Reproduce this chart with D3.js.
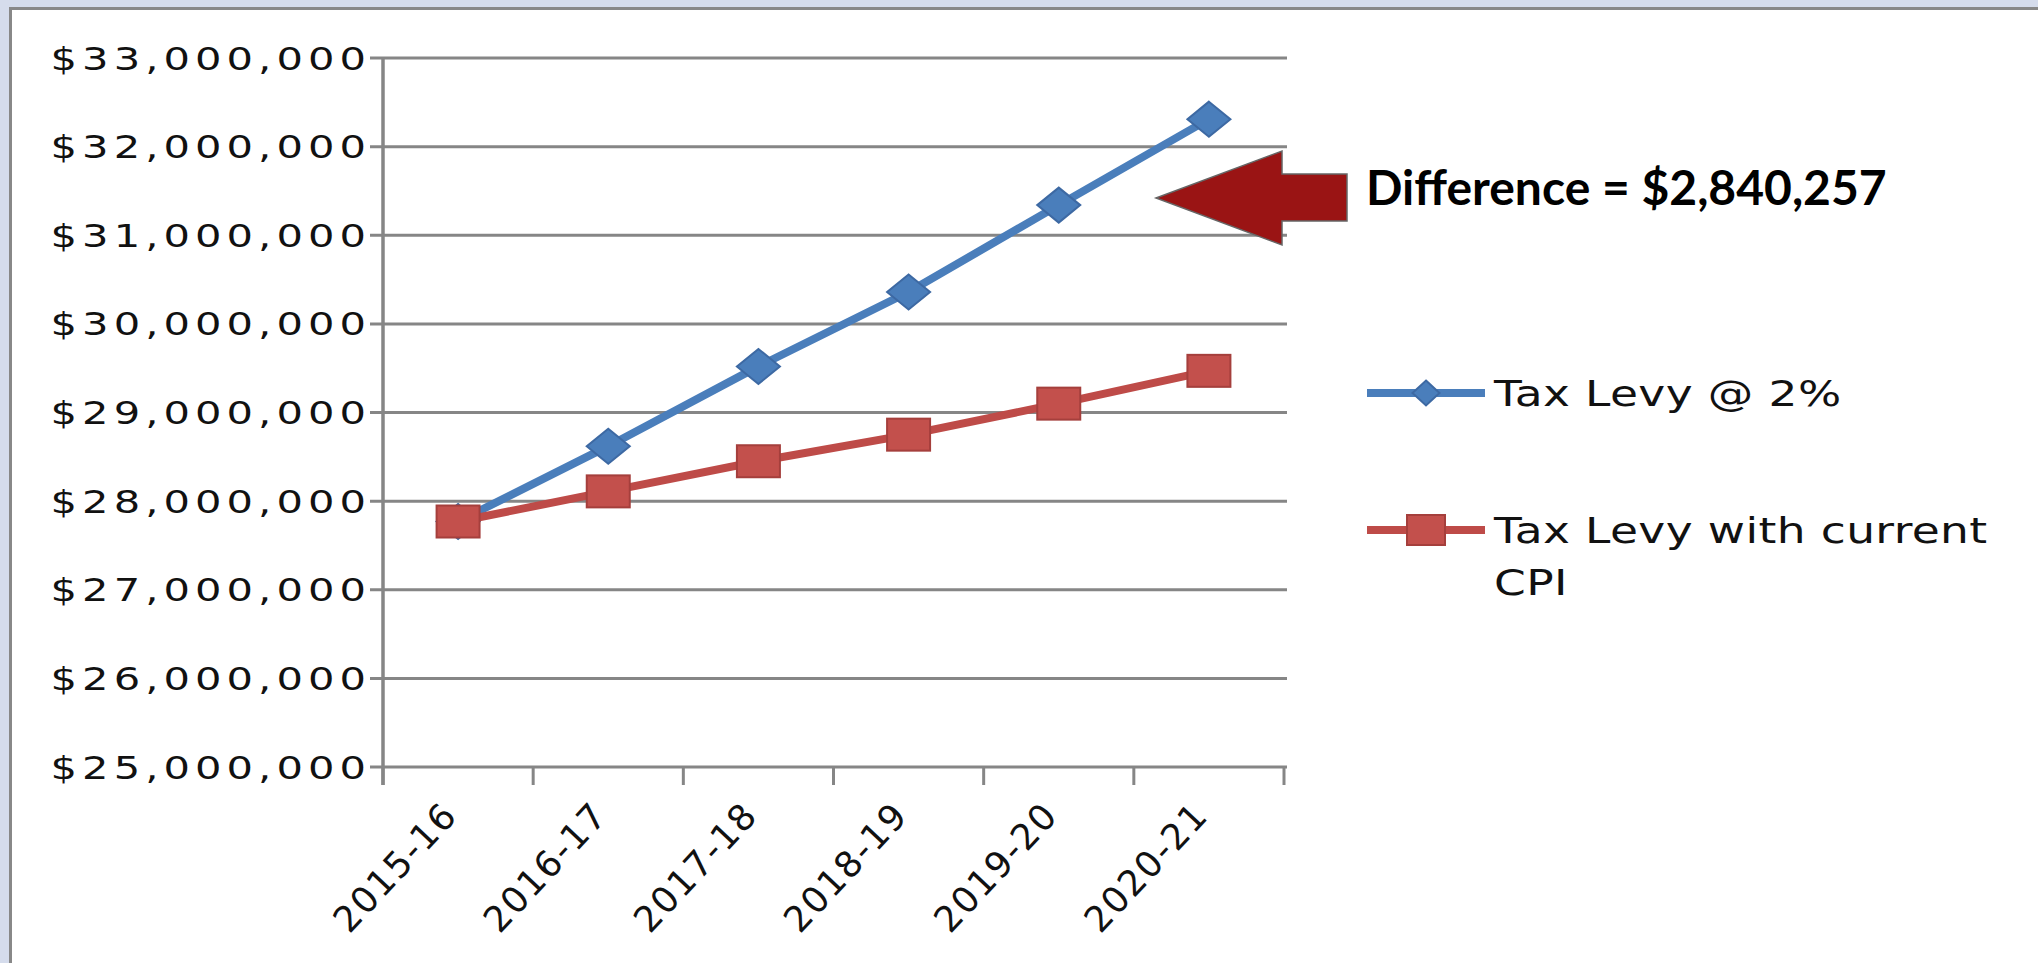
<!DOCTYPE html>
<html>
<head>
<meta charset="utf-8">
<script src="https://cdn.jsdelivr.net/npm/d3@7"></script>
<style>
    body { margin: 0; background: #d5dcec; }
    svg { display: block; }
</style>
</head>
<body>
<svg id="vis_svg"></svg>
<script>
// Data
let categories = ['2015-16', '2016-17', '2017-18', '2018-19', '2019-20', '2020-21'];
let levyTwoPercent = [27770000, 28620000, 29520000, 30360000, 31340000, 32310000];
let levyCurrentCpi = [27770000, 28110000, 28450000, 28750000, 29100000, 29470000];
let yTicks = [25000000, 26000000, 27000000, 28000000, 29000000, 30000000, 31000000, 32000000, 33000000];
let legendLabels = [['Tax Levy @ 2%'], ['Tax Levy with current', 'CPI']];
let differenceLabel = 'Difference = $2,840,257';

// Global Variables
let scales = {};
let config = {
    'svg': {},
    'plot': {},
    'legend': {}
};

/**
 * Set up sizes and scales
 */
function visSetup() {
    config.svg.width = 2038;
    config.svg.height = 963;

    config.plot.left = 383;
    config.plot.right = 1284;
    config.plot.top = 58;
    config.plot.bottom = 767;

    config.legend.x = 1367;
    config.legend.rows = [393, 530];

    scales.x = d3.scaleBand()
        .domain(categories)
        .range([config.plot.left, config.plot.right]);
    scales.y = d3.scaleLinear()
        .domain([25000000, 33000000])
        .range([config.plot.bottom, config.plot.top]);
}

/**
 * Diamond path, w and h are half sizes
 */
function diamond(w, h) {
    return 'M0,' + (-h) + 'L' + w + ',0L0,' + h + 'L' + (-w) + ',0Z';
}

/**
 * Draw everything
 */
function visDraw() {
    let svg = d3.select('#vis_svg')
        .attr('width', config.svg.width)
        .attr('height', config.svg.height);

    // panel with border
    svg.append('rect')
        .attr('x', 10.5).attr('y', 8.5)
        .attr('width', config.svg.width + 20)
        .attr('height', config.svg.height + 20)
        .style('fill', '#ffffff')
        .style('stroke', '#888888')
        .style('stroke-width', 3);

    let x = scales.x, y = scales.y;
    let bw = x.bandwidth();
    let cx = d => x(d) + bw / 2;

    // gridlines
    svg.append('g').selectAll('line')
        .data(yTicks)
        .join('line')
        .attr('x1', config.plot.left - 13)
        .attr('x2', config.plot.right + 3)
        .attr('y1', d => y(d)).attr('y2', d => y(d))
        .style('stroke', '#868686')
        .style('stroke-width', 3);

    // y axis line and labels
    svg.append('line')
        .attr('x1', config.plot.left).attr('x2', config.plot.left)
        .attr('y1', y(33000000)).attr('y2', y(25000000) + 18)
        .style('stroke', '#868686')
        .style('stroke-width', 3.5);

    svg.append('g').selectAll('text')
        .data(yTicks)
        .join('text')
        .attr('transform', d => translate(config.plot.left - 12, y(d)) + ' scale(1.3,1)')
        .attr('dy', '0.36em')
        .attr('text-anchor', 'end')
        .style('font-family', 'DejaVu Sans, Verdana, sans-serif')
        .style('font-size', '32px')
        .style('letter-spacing', '3.9px')
        .style('fill', '#111111')
        .text(d3.format('$,.0f'));

    // x axis ticks at band edges
    let edges = categories.map(d => x(d)).concat([config.plot.right]);
    svg.append('g').selectAll('line')
        .data(edges)
        .join('line')
        .attr('x1', d => d).attr('x2', d => d)
        .attr('y1', y(25000000)).attr('y2', y(25000000) + 18)
        .style('stroke', '#868686')
        .style('stroke-width', 3);

    svg.append('g').selectAll('text')
        .data(categories)
        .join('text')
        .attr('transform', d => translate(cx(d) + 1, y(25000000) + 50) + ' rotate(-47)')
        .attr('text-anchor', 'end')
        .style('font-family', 'DejaVu Sans, Verdana, sans-serif')
        .style('font-size', '36px')
        .style('letter-spacing', '1.5px')
        .style('fill', '#111111')
        .text(d => d);

    let line = d3.line()
        .x((d, i) => cx(categories[i]))
        .y(d => y(d));

    // series 1: Tax Levy @ 2%
    svg.append('path')
        .datum(levyTwoPercent)
        .attr('d', line)
        .style('fill', 'none')
        .style('stroke', '#4a7ebb')
        .style('stroke-width', 8);
    svg.append('g').selectAll('path')
        .data(levyTwoPercent)
        .join('path')
        .attr('d', diamond(21.5, 17.5))
        .attr('transform', (d, i) => translate(cx(categories[i]), y(d)))
        .style('fill', '#4a7ebb')
        .style('stroke', '#3d69a3')
        .style('stroke-width', 2);

    // series 2: Tax Levy with current CPI
    svg.append('path')
        .datum(levyCurrentCpi)
        .attr('d', line)
        .style('fill', 'none')
        .style('stroke', '#be4b48')
        .style('stroke-width', 8);
    svg.append('g').selectAll('rect')
        .data(levyCurrentCpi)
        .join('rect')
        .attr('x', (d, i) => cx(categories[i]) - 21.5)
        .attr('y', d => y(d) - 16)
        .attr('width', 43)
        .attr('height', 32)
        .style('fill', '#c3504c')
        .style('stroke', '#a53f3c')
        .style('stroke-width', 2);

    // legend
    let lg = svg.append('g');
    let colors = ['#4a7ebb', '#be4b48'];
    legendLabels.forEach(function(lines, i) {
        let ly = config.legend.rows[i];
        lg.append('line')
            .attr('x1', config.legend.x).attr('x2', config.legend.x + 118)
            .attr('y1', ly).attr('y2', ly)
            .style('stroke', colors[i])
            .style('stroke-width', 8);
        if (i === 0) {
            lg.append('path')
                .attr('d', diamond(13.5, 12.5))
                .attr('transform', translate(config.legend.x + 59, ly))
                .style('fill', '#4a7ebb')
                .style('stroke', '#3d69a3')
                .style('stroke-width', 2);
        } else {
            lg.append('rect')
                .attr('x', config.legend.x + 40).attr('y', ly - 15)
                .attr('width', 38).attr('height', 30)
                .style('fill', '#c3504c')
                .style('stroke', '#a53f3c')
                .style('stroke-width', 2);
        }
        lines.forEach(function(t, j) {
            lg.append('text')
                .attr('transform', translate(config.legend.x + 127, ly + 13 + j * 52) + ' scale(1.3,1)')
                .style('font-family', 'DejaVu Sans, Verdana, sans-serif')
                .style('font-size', '35px')
                .style('letter-spacing', '0.3px')
                .style('fill', '#111111')
                .text(t);
        });
    });

    // annotation arrow and label
    svg.append('polygon')
        .attr('points', [[1156, 198], [1282, 151], [1282, 174], [1347, 174], [1347, 221], [1282, 221], [1282, 245]].join(' '))
        .style('fill', '#9a1414')
        .style('stroke', '#666666')
        .style('stroke-width', 1.5);

    svg.append('text')
        .attr('x', 1366).attr('y', 205)
        .style('font-family', 'Lato, sans-serif')
        .style('font-weight', 700)
        .style('font-size', '48px')
        .style('fill', '#000000')
        .text(differenceLabel);
}

// Helper functions
function translate(x, y) {
    return 'translate(' + x + ',' + y + ')';
}

visSetup();
visDraw();
</script>
</body>
</html>
